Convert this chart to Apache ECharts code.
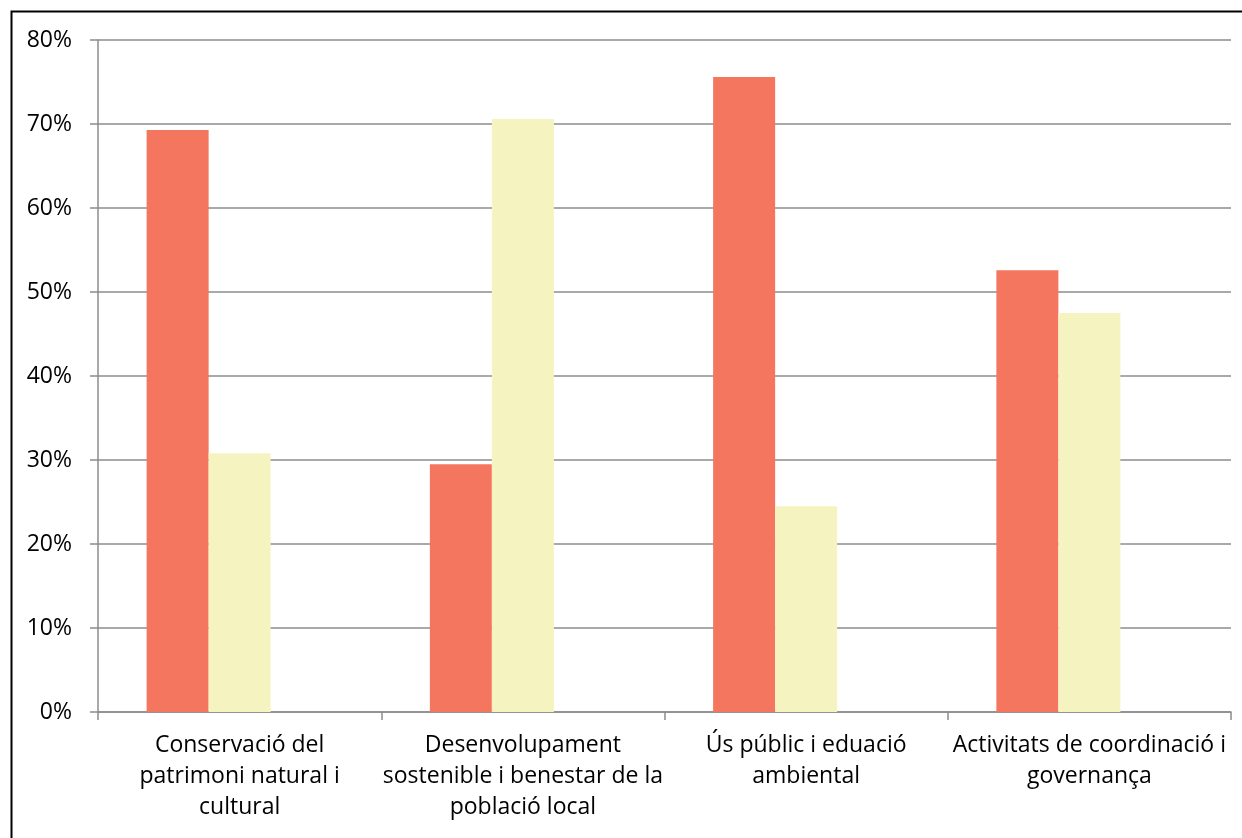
<!DOCTYPE html>
<html><head><meta charset="utf-8">
<script src="https://cdn.jsdelivr.net/npm/echarts@6/dist/echarts.min.js"></script>
<style>html,body{margin:0;padding:0;background:#fff}#c{width:1242px;height:838px}</style>
</head><body><div id="c"></div>
<script>
const categories = [
  "Conservació del\npatrimoni natural i\ncultural",
  "Desenvolupament\nsostenible i benestar de la\npoblació local",
  "Ús públic i eduació\nambiental",
  "Activitats de coordinació i\ngovernança"
];
const seriesA = [69.3, 29.5, 75.6, 52.6];
const seriesB = [30.8, 70.6, 24.5, 47.5];
const seriesC = [null, null, null, null];
const yTicks = [0, 10, 20, 30, 40, 50, 60, 70, 80];

const chart = echarts.init(document.getElementById('c'), null, {renderer: 'canvas'});
const font = '"Open Sans", "Noto Sans", sans-serif';
chart.setOption({
  animation: false,
  graphic: [{type: 'rect', left: 9, top: 9, shape: {width: 1400, height: 1000}, style: {fill: 'none', stroke: '#000', lineWidth: 2}, silent: true, z: -1}],
  grid: {left: 98, right: 11, top: 40, bottom: 126, containLabel: false},
  xAxis: {
    type: 'category', data: categories, boundaryGap: true,
    axisLine: {lineStyle: {color: '#8c8c8c', width: 1.5}},
    axisTick: {show: true, length: 8, lineStyle: {color: '#8c8c8c', width: 1.5}},
    axisLabel: {interval: 0, color: '#000', fontSize: 23, fontFamily: font, lineHeight: 31, margin: 18, align: 'center'}
  },
  yAxis: {
    type: 'value', min: yTicks[0], max: yTicks[yTicks.length - 1], interval: 10,
    axisLine: {show: true, lineStyle: {color: '#8c8c8c', width: 1.5}},
    axisTick: {show: true, length: 8, lineStyle: {color: '#8c8c8c', width: 1.5}},
    splitLine: {show: true, lineStyle: {color: '#8c8c8c', width: 1.5}},
    axisLabel: {formatter: '{value}%', color: '#000', fontSize: 23, fontFamily: font, margin: 26}
  },
  series: [
    {type: 'bar', data: seriesA, barWidth: 62, barGap: '0%', itemStyle: {color: '#F4765E'}},
    {type: 'bar', data: seriesB, barWidth: 62, barGap: '0%', itemStyle: {color: '#F5F4C0'}},
    {type: 'bar', data: seriesC, barWidth: 62, barGap: '0%', itemStyle: {color: '#cccccc'}}
  ]
});
</script></body></html>
